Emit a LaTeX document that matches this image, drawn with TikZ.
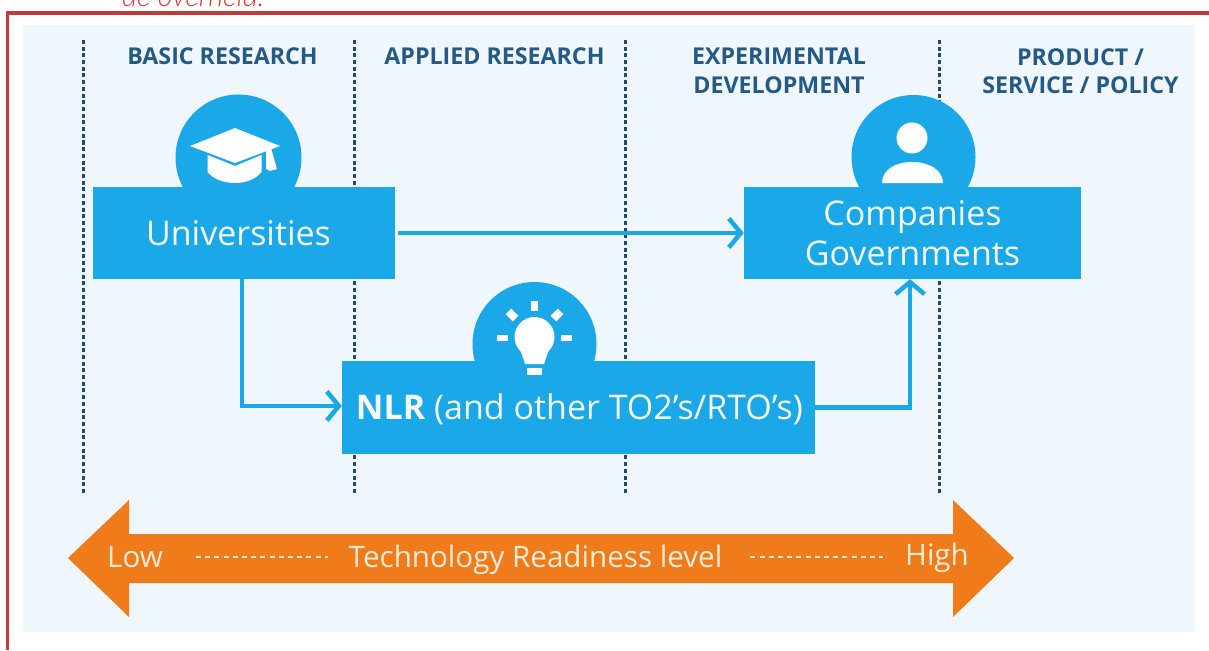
\documentclass[tikz,border=0pt]{standalone}
\usepackage{fontspec}
\setmainfont{Open Sans}
\newfontfamily\redfont{Lato Light}
\usetikzlibrary{arrows.meta,calc}
\definecolor{panelbg}{HTML}{EFF7FC}
\definecolor{framered}{HTML}{C43A3A}
\definecolor{textred}{HTML}{E2332F}
\definecolor{skyblue}{HTML}{1BA8E8}
\definecolor{navy}{HTML}{245A85}
\definecolor{dotnavy}{HTML}{1F4A73}
\definecolor{orangebar}{HTML}{EF7B1B}
\definecolor{softwhite}{HTML}{F4FAFE}
\definecolor{softcream}{HTML}{FDEBD8}
\tikzset{
  x=1pt,y=-1pt,
  phase/.style={draw=dotnavy,line width=3pt,dash pattern=on 4pt off 2.7pt},
  head/.style={text=navy,font=\fontsize{23.2}{28.5}\selectfont\bfseries,align=center,inner sep=0pt},
  bluebox/.style={fill=skyblue,draw=none,inner sep=0pt,text=softwhite,align=center},
  halo/.style={fill=skyblue,draw=none},
  link/.style={draw=skyblue,line width=4.5pt,-{Straight Barb[length=12pt,width=29pt,line width=4.5pt]}},
  icon/.style={fill=white,draw=none},
  trl/.style={text=softcream,inner sep=0pt,font=\fontsize{29.6}{34}\selectfont},
  trldash/.style={draw=softcream,line width=1.8pt,dash pattern=on 5pt off 4.2pt}
}
\begin{document}
\begin{tikzpicture}
\useasboundingbox (0,0) rectangle (1209,650);
\clip (0,0) rectangle (1209,650);
\fill[white] (0,0) rectangle (1209,650);
% clipped caption above the frame
\node[anchor=base west,inner sep=0pt,text=textred,font=\redfont\itshape\fontsize{28.8}{32}\selectfont] (cap) at (122,7) {de overheid.};
% frame and panel
\draw[framered,line width=3.6pt] (1209,13) -- (7.5,13) -- (7.5,650);
\fill[panelbg] (23,25) rectangle (1195,632);
% phase separators
\coordinate (p1t) at (83.5,40);  \coordinate (p1b) at (83.5,495);
\coordinate (p2t) at (354,40);   \coordinate (p2b) at (354,495);
\coordinate (p3t) at (625,40);   \coordinate (p3b) at (625,495);
\coordinate (p4t) at (939.5,40); \coordinate (p4b) at (939.5,495);
\draw[phase] (p1t) -- (p1b);
\draw[phase] (p2t) -- (p2b);
\draw[phase] (p3t) -- (p3b);
\draw[phase] (p4t) -- (p4b);
% headings
\node[head] (h1) at (222.5,56) {BASIC RESEARCH};
\node[head] (h2) at (494.5,56) {APPLIED RESEARCH};
\node[head] (h3) at (779,71) {EXPERIMENTAL\\DEVELOPMENT};
\node[head] (h4) at (1080.5,71) {PRODUCT /\\SERVICE / POLICY};
% halos
\fill[halo] (238.5,157.5) circle (63);
\fill[halo] (913.5,157) circle (62);
\fill[halo] (534.5,344) circle (62);
% boxes
\node[bluebox,minimum width=302pt,minimum height=92pt] (univ) at (244,233) {};
\node[text=softwhite,inner sep=0pt,font=\fontsize{34}{40}\selectfont] (univt) at (238.5,233) {Universities};
\node[bluebox,minimum width=337pt,minimum height=92pt,font=\fontsize{34}{40}\selectfont] (comp) at (912.5,233) {Companies\\[-.5pt]Governments};
\node[bluebox,minimum width=473pt,minimum height=93pt] (nlr) at (578.5,407.5) {};
\node[text=softwhite,inner sep=0pt,font=\fontsize{34}{40}\selectfont] (nlrt) at (579.5,409.5) {\textbf{NLR} (and other TO2’s/RTO’s)};
% connectors
\draw[link,shorten <=3pt] (univ.east) -- (comp.west);
\draw[link] ([xshift=-2pt]univ.south) |- ([yshift=1.5pt]nlr.west);
\draw[link] (nlr.east) -| ([xshift=-2.5pt]comp.south);
% graduation cap
\fill[icon] (235,128) -- (280,146) -- (235,163) -- (190,146) -- cycle;
\fill[icon] (207.5,155) -- (235,166) -- (261.5,155) -- (261.5,172) .. controls (256,179) and (246,183) .. (235,183) .. controls (224,183) and (213,179) .. (207.5,172) -- cycle;
\fill[icon] (266,149) -- (271,148) -- (277,169) -- (270,171) -- (266,169) -- cycle;
% person
\fill[icon] (912,138) circle (15.5);
\fill[icon] (882,183) .. controls (882,170) and (895,162) .. (912,162) .. controls (929,162) and (943,170) .. (943,183) -- cycle;
% light bulb
\fill[icon] (534.5,337) circle (20);
\fill[icon] (520,349) -- (549,349) -- (544,364) -- (525,364) -- cycle;
\fill[icon] (527,368) rectangle (542,375);
\fill[icon] (530.5,301) rectangle (538,311);
\fill[icon] (497,334.5) rectangle (508,341);
\fill[icon] (561,334.5) rectangle (572,341);
\fill[icon,rotate around={45:(512,315)}] (508,310) rectangle (516,320);
\fill[icon,rotate around={-45:(557,315)}] (553,310) rectangle (561,320);
% readiness arrow
\fill[orangebar] (68,558) -- (129,500) -- (129,534) -- (953,534) -- (953,500) -- (1014,558) -- (953,617) -- (953,583) -- (129,583) -- (129,617) -- cycle;
\node[trl] (low) at (135,557.5) {Low};
\node[trl] (tech) at (535.5,559.5) {Technology Readiness level};
\node[trl] (high) at (937,557.5) {High};
\draw[trldash,shorten <=33pt,shorten >=21pt] (low.east |- 0,557) -- (tech.west |- 0,557);
\draw[trldash,shorten <=28pt,shorten >=22pt] (tech.east |- 0,557) -- (high.west |- 0,557);
\end{tikzpicture}
\end{document}
